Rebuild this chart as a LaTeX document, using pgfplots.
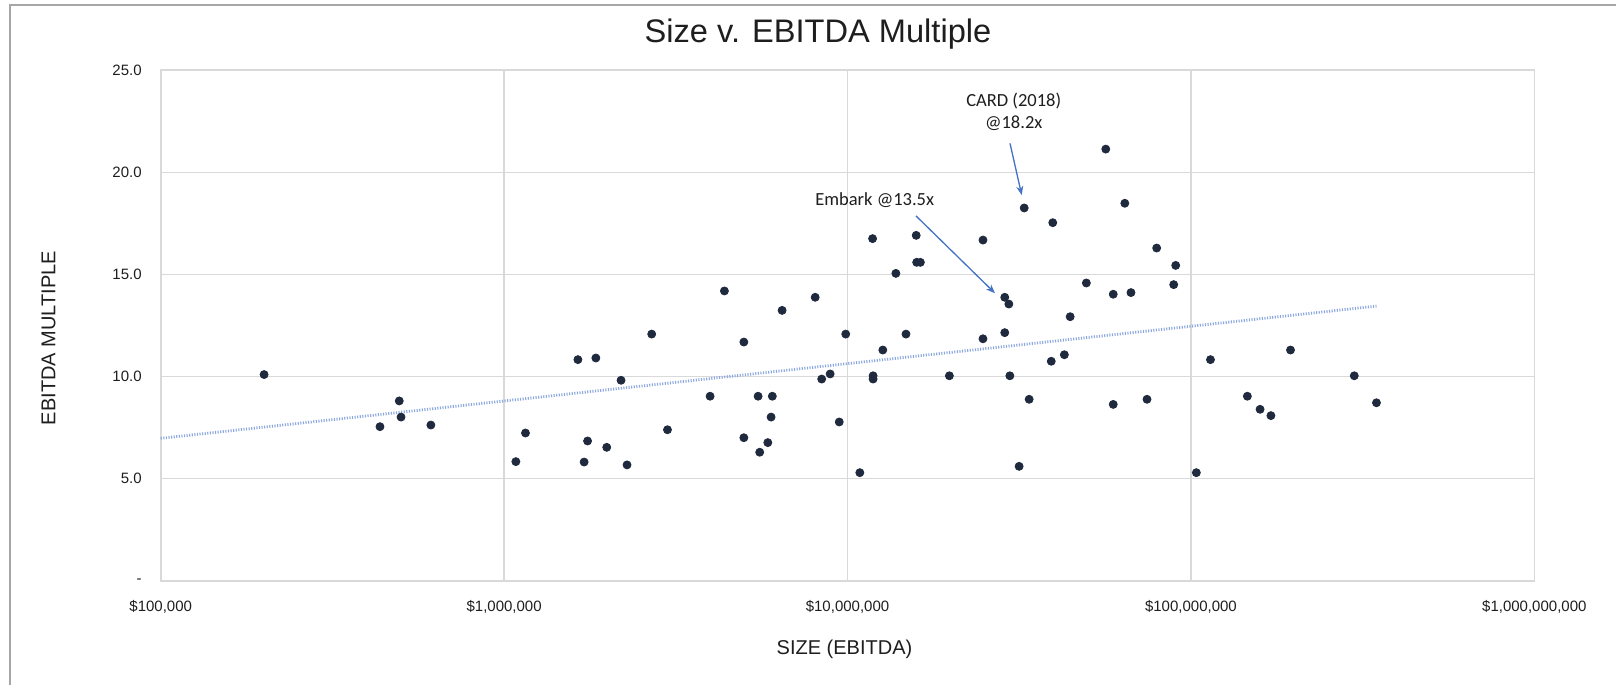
\documentclass[border=0pt]{standalone}
\usepackage{pgfplots}
\pgfplotsset{compat=1.18}
\usetikzlibrary{arrows.meta}
\usepackage{fontspec}
\setmainfont{Liberation Sans}
\newfontfamily\calibri{Carlito}
\definecolor{dot}{RGB}{31,42,62}
\definecolor{gridc}{RGB}{217,217,217}
\definecolor{trend}{RGB}{140,168,222}
\definecolor{arrowc}{RGB}{68,114,196}
\definecolor{txt}{RGB}{30,30,30}
\pgfplotstableread{
x y
200000 10.10
435000 7.55
495000 8.81
501000 8.02
612000 7.63
1082000 5.84
1154000 7.24
1640000 10.83
1850000 10.91
1750000 6.85
1710000 5.82
1990000 6.54
2190000 9.82
2280000 5.68
2690000 12.08
2990000 7.40
3980000 9.04
4380000 14.19
4990000 11.69
4990000 7.01
5490000 9.04
5550000 6.30
6040000 9.04
5990000 8.02
5860000 6.77
6450000 13.24
8050000 13.88
8410000 9.88
8900000 10.13
9460000 7.78
9880000 12.08
10860000 5.30
11870000 10.04
11870000 9.88
12670000 11.30
11830000 16.75
13830000 15.05
14800000 12.08
15850000 16.91
15900000 15.59
16300000 15.59
19800000 10.04
24800000 16.68
24800000 11.85
28700000 13.88
29500000 13.55
28700000 12.15
29700000 10.04
31600000 5.61
32700000 18.25
33800000 8.89
39200000 10.75
39600000 17.53
42800000 11.07
44500000 12.93
49600000 14.58
56500000 21.13
59400000 14.03
59400000 8.64
64200000 18.48
66900000 14.11
74500000 8.89
79500000 16.29
89100000 14.50
90300000 15.44
103700000 5.30
114000000 10.83
146000000 9.04
159000000 8.40
171000000 8.09
195000000 11.30
299000000 10.04
347000000 8.72
}\datatable
\begin{document}
\begin{tikzpicture}
\useasboundingbox (0pt,0pt) rectangle (808pt,342.5pt);
\fill[white] (0pt,0pt) rectangle (808pt,342.5pt);
\begin{scope}[x=0.5pt,y=0.5pt]
\draw[gray!70, line width=1pt] (10,0) -- (10,680) -- (1616,680);
\node[anchor=base, text=txt, font=\fontsize{16.3}{19}\selectfont] at (818,642.7) {Size v. EBITDA Multiple};
\node[text=txt, font=\fontsize{10}{12}\selectfont] at (844.5,36) {SIZE (EBITDA)};
\node[text=txt, rotate=90, font=\fontsize{10}{12}\selectfont] at (48.5,347) {EBITDA MULTIPLE};
\end{scope}
\begin{axis}[
  at={(80.35pt,52pt)}, anchor=south west,
  scale only axis, width=686.8pt, height=255.5pt,
  xmode=log, xmin=1e5, xmax=1e9, ymin=0, ymax=25,
  xtick={1e5,1e6,1e7,1e8,1e9},
  xticklabels={{\$100,000},{\$1,000,000},{\$10,000,000},{\$100,000,000},{\$1,000,000,000}},
  ytick={0,5,10,15,20,25},
  yticklabels={{-\hspace{0.6em}},5.0,10.0,15.0,20.0,25.0},
  major tick length=0pt, minor tick num=0,
  xminorticks=false,
  grid=major,
  major grid style={gridc, line width=0.65pt},
  axis line style={gridc, line width=0.8pt},
  tick label style={text=txt, font=\fontsize{7.5}{9}\selectfont},
  xticklabel style={yshift=-6pt},
  yticklabel style={xshift=-6pt},
  clip=false,
]
\addplot[trend, line width=1.4pt, dash pattern=on 0.55pt off 0.75pt] coordinates {(1e5,6.98) (3.47e8,13.45)};
\addplot[only marks, mark=*, mark size=2pt, mark options={fill=dot, draw=dot}] table[x=x,y=y] {\datatable};
\draw[-{Stealth[length=4.5pt,width=3.5pt]}, arrowc, line width=0.65pt] (axis cs:2.973e7,21.41) -- (axis cs:3.216e7,18.88);
\draw[-{Stealth[length=4.5pt,width=3.5pt]}, arrowc, line width=0.65pt] (axis cs:1.583e7,17.86) -- (axis cs:2.688e7,14.08);
\node[text=txt, align=center, font=\calibri\fontsize{9.25}{10.75}\selectfont] at (axis cs:3.048e7,22.96) {CARD (2018)\\@18.2x};
\node[text=txt, font=\calibri\fontsize{9.25}{10.75}\selectfont] at (axis cs:1.2e7,18.64) {Embark @13.5x};
\end{axis}
\end{tikzpicture}
\end{document}
